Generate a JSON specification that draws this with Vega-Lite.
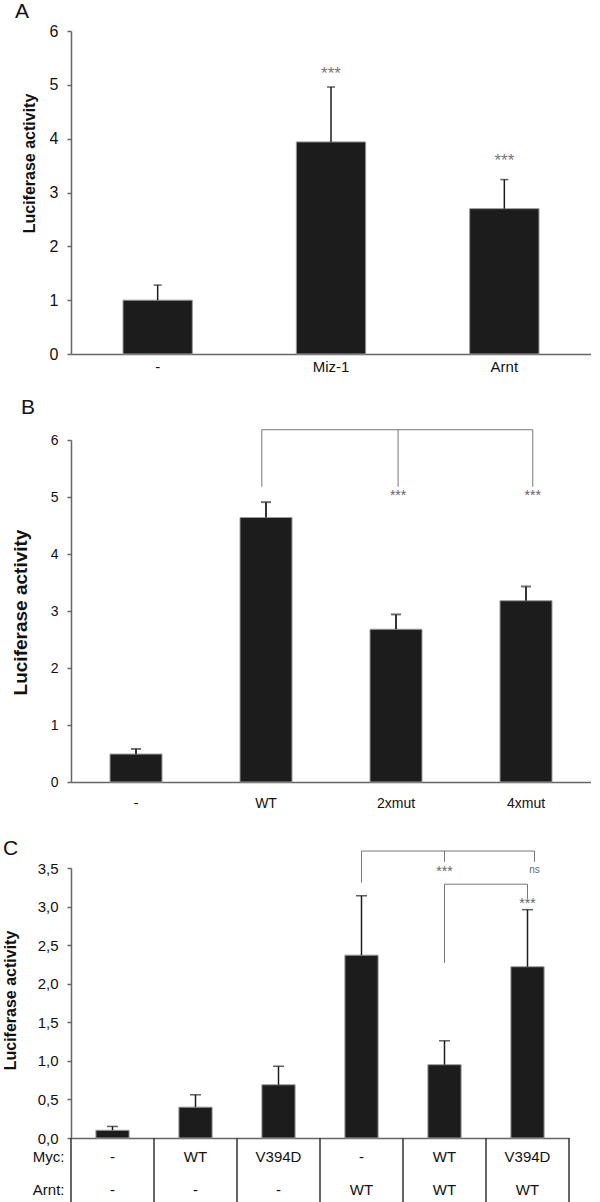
{
  "$schema": "https://vega.github.io/schema/vega-lite/v6.json",
  "padding": {"left": 2, "top": 1, "right": 0, "bottom": 0},
  "bounds": "flush",
  "spacing": 86,
  "config": {
    "view": {"stroke": null},
    "font": "Liberation Sans",
    "axis": {"grid": false, "domainColor": "#666", "domainWidth": 1.5, "tickColor": "#666", "tickWidth": 1.5, "labelColor": "#111", "titleColor": "#111"},
    "title": {"fontSize": 21, "fontWeight": "normal", "anchor": "start", "frame": "group", "baseline": "alphabetic", "color": "#111"}
  },
  "vconcat": [
    {
      "width": 520, "height": 323,
      "title": {"text": "A", "dx": -56, "offset": 1},
      "data": {"values": [
        {"g": "-", "v": 1.0, "e": 1.28},
        {"g": "Miz-1", "v": 3.94, "e": 4.96},
        {"g": "Arnt", "v": 2.70, "e": 3.24}
      ]},
      "layer": [
        {"mark": {"type": "bar", "fill": "#1c1c1c", "stroke": "#9a9a9a", "strokeWidth": 1},
         "encoding": {
           "x": {"field": "g", "type": "nominal", "scale": {"domain": ["-", "Miz-1", "Arnt"], "paddingInner": 0.6, "paddingOuter": 0.3},
                 "axis": {"title": null, "ticks": false, "labelAngle": 0, "labelFontSize": 15, "labelPadding": 5}},
           "y": {"field": "v", "type": "quantitative", "scale": {"domain": [0, 6], "nice": false},
                 "axis": {"tickCount": 6, "format": "d", "title": "Luciferase activity", "titleFontSize": 16, "titleFontWeight": "bold", "titleX": -42, "titleY": 132, "titleBaseline": "middle", "titleAngle": 270, "tickSize": 4, "labelPadding": 9, "labelFontSize": 16}}
         }},
        {"mark": {"type": "rule", "color": "#1c1c1c", "strokeWidth": 1.5},
         "encoding": {"x": {"field": "g", "type": "nominal"}, "y": {"field": "v", "type": "quantitative"}, "y2": {"field": "e"}}},
        {"mark": {"type": "tick", "color": "#1c1c1c", "thickness": 1.5, "size": 8},
         "encoding": {"x": {"field": "g", "type": "nominal"}, "y": {"field": "e", "type": "quantitative"}}},
        {"data": {"values": [{"g": "Miz-1", "y": 5.24, "t": "***"}, {"g": "Arnt", "y": 3.63, "t": "***"}]},
         "mark": {"type": "text", "color": "#777", "fontSize": 17, "baseline": "alphabetic", "dy": 7},
         "encoding": {"x": {"field": "g", "type": "nominal"}, "y": {"field": "y", "type": "quantitative"}, "text": {"field": "t"}}}
      ]
    },
    {
      "width": 520, "height": 342,
      "title": {"text": "B", "dx": -50, "offset": 11},
      "data": {"values": [
        {"g": "-", "v": 0.49, "e": 0.58},
        {"g": "WT", "v": 4.64, "e": 4.91},
        {"g": "2xmut", "v": 2.68, "e": 2.94},
        {"g": "4xmut", "v": 3.18, "e": 3.43}
      ]},
      "layer": [
        {"mark": {"type": "bar", "fill": "#1c1c1c", "stroke": "#9a9a9a", "strokeWidth": 1},
         "encoding": {
           "x": {"field": "g", "type": "nominal", "scale": {"domain": ["-", "WT", "2xmut", "4xmut"], "paddingInner": 0.6, "paddingOuter": 0.3},
                 "axis": {"title": null, "ticks": false, "labelAngle": 0, "labelFontSize": 14, "labelPadding": 14}},
           "y": {"field": "v", "type": "quantitative", "scale": {"domain": [0, 6], "nice": false},
                 "axis": {"tickCount": 6, "format": "d", "title": "Luciferase activity", "titleFontSize": 19, "titleFontWeight": "bold", "titleX": -51, "titleY": 172, "titleBaseline": "middle", "titleAngle": 270, "tickSize": 4, "labelPadding": 9, "labelFontSize": 14}}
         }},
        {"mark": {"type": "rule", "color": "#333", "strokeWidth": 2},
         "encoding": {"x": {"field": "g", "type": "nominal"}, "y": {"field": "v", "type": "quantitative"}, "y2": {"field": "e"}}},
        {"mark": {"type": "tick", "color": "#333", "thickness": 2, "size": 10},
         "encoding": {"x": {"field": "g", "type": "nominal"}, "y": {"field": "e", "type": "quantitative"}}},
        {"data": {"values": [{"g": "WT", "b": "4xmut", "y": 6.18}]},
         "mark": {"type": "rule", "color": "#777", "strokeWidth": 1},
         "encoding": {"x": {"field": "g", "type": "nominal", "bandPosition": 0.42}, "x2": {"field": "b", "bandPosition": 0.63}, "y": {"field": "y", "type": "quantitative"}}},
        {"data": {"values": [{"g": "WT", "y": 6.18, "y2": 5.18}]},
         "mark": {"type": "rule", "color": "#777", "strokeWidth": 1},
         "encoding": {"x": {"field": "g", "type": "nominal", "bandPosition": 0.42}, "y": {"field": "y", "type": "quantitative"}, "y2": {"field": "y2"}}},
        {"data": {"values": [{"g": "2xmut", "y": 6.18, "y2": 5.18, "s": 5.09, "t": "***"}]},
         "encoding": {"x": {"field": "g", "type": "nominal", "bandPosition": 0.54}},
         "layer": [
           {"mark": {"type": "rule", "color": "#777", "strokeWidth": 1},
            "encoding": {"y": {"field": "y", "type": "quantitative"}, "y2": {"field": "y2"}}},
           {"mark": {"type": "text", "color": "#666", "fontSize": 14, "baseline": "alphabetic", "dy": 8},
            "encoding": {"y": {"field": "s", "type": "quantitative"}, "text": {"field": "t"}}}
         ]},
        {"data": {"values": [{"g": "4xmut", "y": 6.18, "y2": 5.18, "s": 5.09, "t": "***"}]},
         "encoding": {"x": {"field": "g", "type": "nominal", "bandPosition": 0.63}},
         "layer": [
           {"mark": {"type": "rule", "color": "#777", "strokeWidth": 1},
            "encoding": {"y": {"field": "y", "type": "quantitative"}, "y2": {"field": "y2"}}},
           {"mark": {"type": "text", "color": "#666", "fontSize": 14, "baseline": "alphabetic", "dy": 8},
            "encoding": {"y": {"field": "s", "type": "quantitative"}, "text": {"field": "t"}}}
         ]}
      ]
    },
    {
      "bounds": "flush",
      "spacing": 0,
      "vconcat": [
        {
          "width": 498, "height": 270,
          "title": {"text": "C", "dx": -68, "offset": -8},
          "data": {"values": [
            {"id": "1", "v": 0.10, "e": 0.15},
            {"id": "2", "v": 0.40, "e": 0.56},
            {"id": "3", "v": 0.69, "e": 0.93},
            {"id": "4", "v": 2.37, "e": 3.14},
            {"id": "5", "v": 0.95, "e": 1.26},
            {"id": "6", "v": 2.22, "e": 2.96}
          ]},
          "layer": [
            {"mark": {"type": "bar", "fill": "#1c1c1c", "stroke": "#9a9a9a", "strokeWidth": 1},
             "encoding": {
               "x": {"field": "id", "type": "nominal", "scale": {"domain": ["1", "2", "3", "4", "5", "6"], "paddingInner": 0.6, "paddingOuter": 0.3},
                     "axis": {"title": null, "ticks": false, "labels": false}},
               "y": {"field": "v", "type": "quantitative", "scale": {"domain": [0, 3.5], "nice": false},
                     "axis": {"tickCount": 7, "labelExpr": "replace(format(datum.value, '.1f'), '.', ',')", "title": "Luciferase activity", "titleFontSize": 16, "titleFontWeight": "bold", "titleX": -61, "titleY": 132, "titleBaseline": "middle", "titleAngle": 270, "tickSize": 4, "labelPadding": 9, "labelFontSize": 15}}
             }},
            {"mark": {"type": "rule", "color": "#1c1c1c", "strokeWidth": 1.5},
             "encoding": {"x": {"field": "id", "type": "nominal"}, "y": {"field": "v", "type": "quantitative"}, "y2": {"field": "e"}}},
            {"mark": {"type": "tick", "color": "#1c1c1c", "thickness": 1.5, "size": 11},
             "encoding": {"x": {"field": "id", "type": "nominal"}, "y": {"field": "e", "type": "quantitative"}}},
            {"data": {"values": [{"id": "4", "b": "6", "y": 3.72}]},
             "mark": {"type": "rule", "color": "#777", "strokeWidth": 1},
             "encoding": {"x": {"field": "id", "type": "nominal"}, "x2": {"field": "b", "bandPosition": 0.71}, "y": {"field": "y", "type": "quantitative"}}},
            {"data": {"values": [{"id": "5", "b": "6", "y": 3.29}]},
             "mark": {"type": "rule", "color": "#777", "strokeWidth": 1},
             "encoding": {"x": {"field": "id", "type": "nominal"}, "x2": {"field": "b"}, "y": {"field": "y", "type": "quantitative"}}},
            {"data": {"values": [
               {"id": "4", "y": 3.72, "y2": 3.31},
               {"id": "5", "y": 3.72, "y2": 3.58},
               {"id": "5", "y": 3.29, "y2": 2.27},
               {"id": "6", "y": 3.29, "y2": 3.11}
             ]},
             "mark": {"type": "rule", "color": "#777", "strokeWidth": 1},
             "encoding": {"x": {"field": "id", "type": "nominal"}, "y": {"field": "y", "type": "quantitative"}, "y2": {"field": "y2"}}},
            {"data": {"values": [{"id": "5", "s": 3.46, "t": "***"}, {"id": "6", "s": 3.05, "t": "***"}]},
             "mark": {"type": "text", "color": "#666", "fontSize": 14, "baseline": "alphabetic", "dy": 5},
             "encoding": {"x": {"field": "id", "type": "nominal"}, "y": {"field": "s", "type": "quantitative"}, "text": {"field": "t"}}},
            {"data": {"values": [{"id": "6", "y": 3.72, "y2": 3.58, "s": 3.46, "t": "ns"}]},
             "encoding": {"x": {"field": "id", "type": "nominal", "bandPosition": 0.71}},
             "layer": [
               {"mark": {"type": "rule", "color": "#777", "strokeWidth": 1},
                "encoding": {"y": {"field": "y", "type": "quantitative"}, "y2": {"field": "y2"}}},
               {"mark": {"type": "text", "color": "#666", "fontSize": 10, "baseline": "alphabetic", "dy": 2},
                "encoding": {"y": {"field": "s", "type": "quantitative"}, "text": {"field": "t"}}}
             ]}
          ]
        },
        {
          "width": 498, "height": 66,
          "data": {"values": [
            {"id": "1", "row": "Myc:", "t": "-"}, {"id": "2", "row": "Myc:", "t": "WT"}, {"id": "3", "row": "Myc:", "t": "V394D"},
            {"id": "4", "row": "Myc:", "t": "-"}, {"id": "5", "row": "Myc:", "t": "WT"}, {"id": "6", "row": "Myc:", "t": "V394D"},
            {"id": "1", "row": "Arnt:", "t": "-"}, {"id": "2", "row": "Arnt:", "t": "-"}, {"id": "3", "row": "Arnt:", "t": "-"},
            {"id": "4", "row": "Arnt:", "t": "WT"}, {"id": "5", "row": "Arnt:", "t": "WT"}, {"id": "6", "row": "Arnt:", "t": "WT"}
          ]},
          "layer": [
            {"mark": {"type": "text", "fontSize": 15, "color": "#111", "dy": 2},
             "encoding": {
               "x": {"field": "id", "type": "nominal", "scale": {"domain": ["1", "2", "3", "4", "5", "6"], "paddingInner": 0, "paddingOuter": 0}, "axis": null},
               "y": {"field": "row", "type": "nominal", "scale": {"domain": ["Myc:", "Arnt:"], "paddingInner": 0, "paddingOuter": 0},
                     "axis": {"title": null, "domain": false, "ticks": false, "labelFontSize": 15, "labelPadding": 7, "labelOffset": 2}},
               "text": {"field": "t"}
             }},
            {"data": {"values": [{"id": "1"}, {"id": "2"}, {"id": "3"}, {"id": "4"}, {"id": "5"}, {"id": "6"}]},
             "mark": {"type": "rule", "color": "#333", "strokeWidth": 1.5},
             "encoding": {"x": {"field": "id", "type": "nominal", "bandPosition": 1, "axis": null}}},
            {"data": {"values": [{"id": "1"}]},
             "mark": {"type": "rule", "color": "#333", "strokeWidth": 1.5},
             "encoding": {"x": {"field": "id", "type": "nominal", "bandPosition": 0, "axis": null}}}
          ]
        }
      ]
    }
  ]
}
